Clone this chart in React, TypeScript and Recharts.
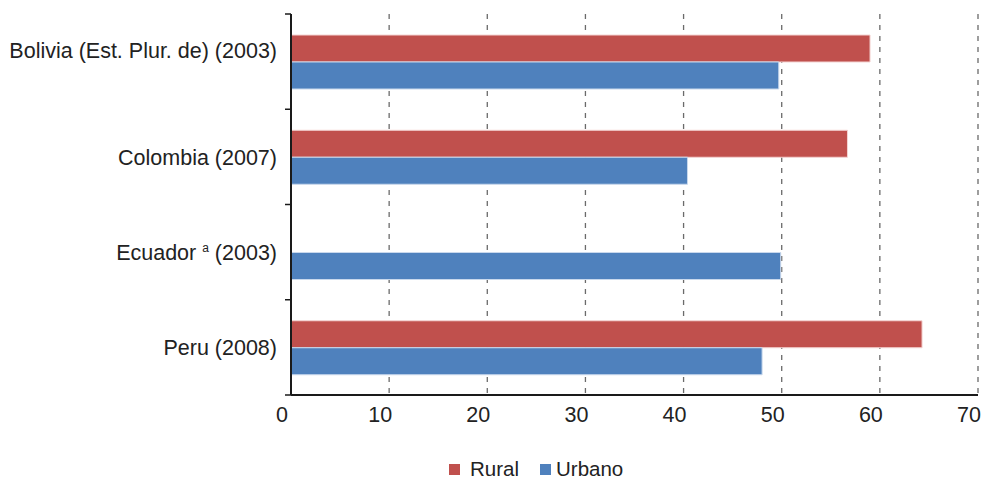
import React from 'react'
import {
  BarChart,
  Bar,
  XAxis,
  YAxis,
  CartesianGrid,
  Legend,
} from 'recharts'

// Countries (survey year) and their footnote marks
const COUNTRIES = [
  'Bolivia (Est. Plur. de) (2003)',
  'Colombia (2007)',
  'Ecuador (2003)',
  'Peru (2008)',
]
const NOTES = ['', '', 'a', '']

// Values (percent)
const RURAL: (number | null)[] = [59.0, 56.7, null, 64.3]
const URBAN = [49.7, 40.4, 49.9, 48.0]

const X_TICKS = [0, 10, 20, 30, 40, 50, 60, 70]

const RURAL_COLOR = '#C0504D'
const URBAN_COLOR = '#4F81BD'
const TEXT_COLOR = '#222'
const FONT = '"Liberation Sans", Arial, sans-serif'
const FONT_SIZE = 21.5

const data = COUNTRIES.map((country, i) => ({
  country,
  note: NOTES[i],
  rural: RURAL[i],
  urban: URBAN[i],
}))

function CountryTick(props: any) {
  const { x, y, payload, index } = props
  const half = payload?.offset ?? 47.6
  const label: string = payload.value
  const note = NOTES[index] || ''
  const split = label.lastIndexOf(' (')
  const name = label.slice(0, split)
  const year = label.slice(split)
  // the first label sits a little above the centre of its band in the original
  const dy = index === 0 ? -11 : 0
  return (
    <g>
      <line x1={x - 6} x2={x} y1={y - half} y2={y - half} stroke="#1a1a1a" strokeWidth={1.5} />
      {index === COUNTRIES.length - 1 && (
        <line x1={x - 6} x2={x} y1={y + half} y2={y + half} stroke="#1a1a1a" strokeWidth={1.5} />
      )}
      <text
        x={x - 14}
        y={y + dy}
        dy="0.36em"
        textAnchor="end"
        fill={TEXT_COLOR}
        fontSize={FONT_SIZE}
        fontFamily={FONT}
      >
        {note ? (
          <>
            {name + ' '}
            <tspan fontSize={12} dy={-8}>{note}</tspan>
            <tspan dy={8}>{year}</tspan>
          </>
        ) : (
          label
        )}
      </text>
    </g>
  )
}

function ValueTick(props: any) {
  const { x, y, payload } = props
  return (
    <text
      x={x - 9}
      y={y + 19}
      dy="0.36em"
      textAnchor="middle"
      fill={TEXT_COLOR}
      fontSize={FONT_SIZE}
      fontFamily={FONT}
    >
      {payload.value}
    </text>
  )
}

function SeriesLegend(props: any) {
  const items = props.payload || []
  return (
    <div style={{ display: 'flex', alignItems: 'center', fontFamily: FONT, fontSize: 20.5, color: TEXT_COLOR, lineHeight: '24px' }}>
      {items.map((item: any, i: number) => (
        <span key={i} style={{ display: 'flex', alignItems: 'center', marginRight: 21 }}>
          <span style={{ width: 11, height: 11, background: item.color, marginRight: i === 0 ? 10 : 5 }} />
          {item.value}
        </span>
      ))}
    </div>
  )
}

export default function App() {
  return (
    <div style={{ position: 'absolute', left: 0, top: 0, background: '#fff' }}>
      <BarChart
        width={982}
        height={479}
        data={data}
        layout="vertical"
        margin={{ top: 14, right: 4, bottom: 54, left: 0 }}
        barGap={0}
        barSize={27}
      >
        <CartesianGrid horizontal={false} stroke="#6a6a6a" strokeWidth={1.3} strokeDasharray="5 6" />
        <XAxis
          type="number"
          domain={[0, 70]}
          ticks={X_TICKS}
          interval={0}
          height={30}
          tickLine={false}
          tickSize={0}
          tickMargin={0}
          axisLine={{ stroke: '#1a1a1a', strokeWidth: 2 }}
          tick={<ValueTick />}
        />
        <YAxis
          type="category"
          dataKey="country"
          width={291}
          interval={0}
          tickLine={false}
          tickSize={0}
          tickMargin={0}
          axisLine={{ stroke: '#1a1a1a', strokeWidth: 2 }}
          tick={<CountryTick />}
        />
        <Legend
          layout="horizontal"
          verticalAlign="middle"
          align="center"
          content={<SeriesLegend />}
          wrapperStyle={{ left: 449, top: 457, width: 'auto', height: 'auto' }}
        />
        <Bar
          dataKey="rural"
          name="Rural"
          fill={RURAL_COLOR}
          stroke="#f4d4d3"
          strokeWidth={1}
          isAnimationActive={false}
        />
        <Bar
          dataKey="urban"
          name="Urbano"
          fill={URBAN_COLOR}
          stroke="#c9d8ec"
          strokeWidth={1}
          isAnimationActive={false}
        />
      </BarChart>
    </div>
  )
}
